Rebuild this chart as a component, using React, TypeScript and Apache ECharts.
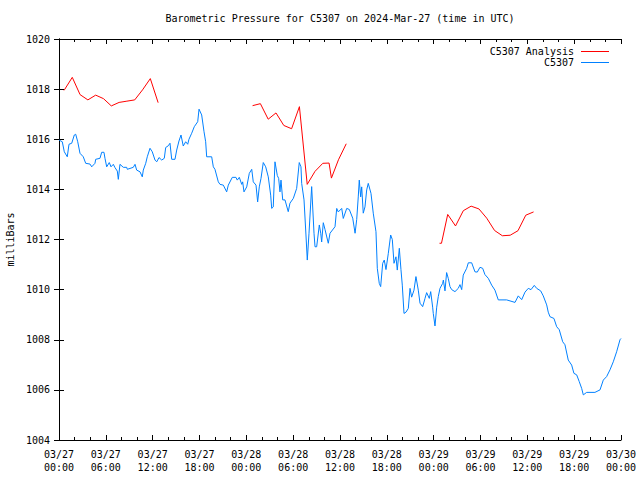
import React, { useEffect, useRef } from "react";
import * as echarts from "echarts";

// hours after 2024-03-27 00:00 UTC, pressure in milliBars
const xTickHours = [0, 6, 12, 18, 24, 30, 36, 42, 48, 54, 60, 66, 72];
const yTicks = [1004, 1006, 1008, 1010, 1012, 1014, 1016, 1018, 1020];

const c5307Obs: [number, number][] = [
  [0.0, 1015.97], [0.42, 1015.9], [0.68, 1015.5], [1.06, 1015.3], [1.28, 1015.8], [1.63, 1015.84], [1.96, 1016.17], [2.14, 1016.2],
  [2.4, 1015.9], [2.69, 1015.44], [3.11, 1015.3], [3.42, 1015.04], [3.97, 1015.01], [4.19, 1014.9], [4.61, 1015.04], [4.7, 1015.2],
  [5.25, 1015.24], [5.47, 1015.48], [5.76, 1015.48], [5.89, 1015.24], [6.11, 1014.9], [6.44, 1015.07], [6.66, 1014.9], [6.96, 1015.0],
  [7.17, 1014.87], [7.47, 1014.73], [7.6, 1014.4], [7.81, 1015.0], [8.24, 1014.88], [8.67, 1014.88], [8.75, 1014.8], [9.52, 1014.88],
  [9.74, 1015.0], [9.95, 1014.77], [10.38, 1014.7], [10.67, 1014.5], [10.8, 1014.77], [11.11, 1015.04], [11.31, 1015.3], [11.66, 1015.64],
  [11.95, 1015.5], [12.3, 1015.17], [12.52, 1015.1], [12.81, 1015.27], [13.16, 1015.17], [13.49, 1015.24], [13.67, 1015.67], [14.0, 1015.74],
  [14.22, 1015.84], [14.44, 1015.2], [14.86, 1015.2], [15.08, 1015.57], [15.37, 1015.93], [15.63, 1016.17], [15.92, 1015.73], [16.23, 1015.9],
  [16.49, 1015.8], [16.65, 1016.0], [17.0, 1016.24], [17.33, 1016.5], [17.77, 1016.7], [17.94, 1017.2], [18.28, 1016.97], [18.58, 1016.3],
  [18.79, 1015.9], [18.92, 1015.3], [19.56, 1015.3], [19.77, 1014.9], [19.98, 1014.8], [20.41, 1014.3], [20.63, 1014.2], [21.05, 1014.17],
  [21.48, 1013.9], [21.69, 1014.17], [22.2, 1014.48], [22.67, 1014.48], [22.84, 1014.37], [23.1, 1014.48], [23.41, 1014.2], [23.53, 1014.3],
  [23.7, 1013.9], [24.05, 1014.1], [24.38, 1014.64], [24.69, 1014.8], [24.89, 1014.3], [25.24, 1014.17], [25.45, 1013.5], [25.66, 1014.1],
  [25.88, 1014.44], [26.17, 1015.07], [26.48, 1014.9], [26.81, 1014.5], [27.12, 1013.77], [27.25, 1013.24], [27.45, 1013.3], [27.67, 1015.1],
  [27.97, 1014.55], [28.14, 1014.44], [28.31, 1013.9], [28.44, 1014.37], [28.66, 1013.58], [28.95, 1013.58], [29.37, 1013.11], [29.59, 1013.45],
  [30.02, 1013.64], [30.45, 1014.04], [30.78, 1015.07], [31.0, 1014.9], [31.09, 1014.24], [31.39, 1013.58], [31.64, 1012.18], [31.81, 1011.18],
  [32.03, 1012.25], [32.37, 1014.11], [32.67, 1012.25], [32.8, 1011.71], [33.01, 1011.71], [33.35, 1012.58], [33.53, 1012.25], [33.65, 1011.9],
  [33.86, 1012.67], [34.08, 1012.4], [34.5, 1011.85], [34.72, 1012.25], [35.36, 1012.51], [35.58, 1013.24], [35.78, 1013.1], [36.22, 1013.24],
  [36.42, 1012.84], [36.86, 1013.24], [37.19, 1013.2], [37.63, 1012.85], [37.93, 1012.25], [38.14, 1012.8], [38.34, 1013.7], [38.47, 1014.37],
  [38.65, 1013.7], [38.78, 1014.1], [38.98, 1013.05], [39.2, 1013.3], [39.42, 1013.98], [39.62, 1014.24], [39.97, 1013.84], [40.26, 1013.05],
  [40.61, 1012.31], [40.78, 1010.85], [41.03, 1010.25], [41.21, 1010.12], [41.47, 1011.05], [41.67, 1011.18], [41.89, 1010.8], [42.19, 1011.45],
  [42.49, 1012.18], [42.7, 1012.0], [42.92, 1011.05], [43.17, 1011.31], [43.34, 1010.78], [43.6, 1011.65], [43.81, 1010.8], [43.98, 1010.18],
  [44.2, 1009.05], [44.45, 1009.1], [44.75, 1009.25], [44.97, 1010.05], [45.18, 1009.7], [45.48, 1009.98], [45.73, 1010.52], [46.03, 1009.98],
  [46.25, 1009.46], [46.59, 1009.32], [46.89, 1009.65], [47.1, 1009.88], [47.44, 1009.65], [47.62, 1009.92], [47.87, 1009.3], [47.95, 1009.05],
  [48.17, 1008.55], [48.39, 1009.3], [48.59, 1009.72], [48.81, 1010.05], [49.15, 1010.25], [49.24, 1010.38], [49.45, 1009.95], [49.66, 1010.68],
  [49.87, 1010.45], [50.09, 1010.12], [50.31, 1010.0], [50.73, 1009.92], [51.15, 1010.05], [51.37, 1010.2], [51.59, 1010.0], [51.79, 1010.58],
  [52.23, 1010.85], [52.44, 1011.07], [52.87, 1011.07], [53.29, 1010.71], [53.59, 1010.7], [53.93, 1010.89], [54.28, 1010.85], [54.57, 1010.6],
  [55.0, 1010.45], [55.43, 1010.18], [55.85, 1009.98], [56.28, 1009.59], [57.35, 1009.59], [57.78, 1009.55], [58.42, 1009.49], [58.84, 1009.75],
  [59.28, 1009.6], [59.7, 1009.9], [60.12, 1010.05], [60.47, 1010.0], [60.89, 1010.17], [61.2, 1010.05], [61.71, 1009.95], [62.04, 1009.75],
  [62.48, 1009.39], [62.68, 1009.1], [62.9, 1008.92], [63.41, 1008.85], [63.76, 1008.52], [64.09, 1008.4], [64.53, 1007.92], [64.82, 1007.8],
  [65.24, 1007.19], [65.68, 1006.99], [65.97, 1006.66], [66.32, 1006.6], [66.65, 1006.33], [66.96, 1006.06], [67.17, 1005.8], [67.6, 1005.9],
  [68.66, 1005.9], [69.31, 1006.0], [69.73, 1006.39], [70.16, 1006.53], [70.59, 1006.8], [71.01, 1007.12], [71.44, 1007.52], [71.87, 1008.0],
  [72.0, 1008.05],
];

const analysisSeg1: [number, number][] = [
  [0.65, 1017.95], [1.7, 1018.47], [2.7, 1017.78], [3.7, 1017.57], [4.7, 1017.76], [5.7, 1017.62], [6.7, 1017.33],
  [7.7, 1017.47], [8.7, 1017.52], [9.7, 1017.57], [10.7, 1017.97], [11.7, 1018.42], [12.7, 1017.46],
];
const analysisSeg2: [number, number][] = [
  [24.8, 1017.34], [25.8, 1017.42], [26.8, 1016.8], [27.8, 1017.05], [28.8, 1016.55], [29.8, 1016.42], [30.8, 1017.3],
  [31.8, 1014.2], [32.8, 1014.72], [33.8, 1015.04], [34.6, 1015.05], [34.9, 1014.45], [35.8, 1015.18], [36.8, 1015.82],
];
const analysisSeg3: [number, number][] = [
  [48.75, 1011.85], [49.0, 1011.85], [49.8, 1013.0], [50.8, 1012.54], [51.8, 1013.15], [52.8, 1013.33], [53.8, 1013.22],
  [54.8, 1012.85], [55.8, 1012.36], [56.8, 1012.15], [57.8, 1012.17], [58.8, 1012.35], [59.8, 1012.97], [60.8, 1013.1],
];

const FONT = "DejaVu Sans Mono";
const RED = "#ff0000";
const BLUE = "#0080ff";
// thin horizontal bar inside a 28x11 box (the extra moves set the bounding box)
const LINE_ICON = "path://M0,0M28,11M0,5L28,5L28,6L0,6Z";

function xLabel(v: number): string {
  const day = 27 + Math.floor(v / 24);
  const hh = Math.round(v % 24);
  return `03/${day}\n${hh < 10 ? "0" : ""}${hh}:00`;
}

export default function App() {
  const ref = useRef<HTMLDivElement>(null);
  useEffect(() => {
    document.body.style.margin = "0";
    const chart = echarts.init(ref.current!, null, { renderer: "svg" });
    const analysisData: any[] = [
      ...analysisSeg1,
      [18, null],
      ...analysisSeg2,
      [42, null],
      ...analysisSeg3,
    ];
    const xMin = xTickHours[0];
    const xMax = xTickHours[xTickHours.length - 1];
    const yMin = yTicks[0];
    const yMax = yTicks[yTicks.length - 1];
    const baseX = {
      type: "value",
      min: xMin,
      max: xMax,
      interval: 6,
      splitLine: { show: false },
      axisLine: { show: true, lineStyle: { color: "#000", width: 1 } },
      axisTick: { show: true, inside: true, length: 5, lineStyle: { color: "#000" } },
      minorTick: { show: true, splitNumber: 3, length: 3, lineStyle: { color: "#000" } },
    };
    const baseY = {
      type: "value",
      min: yMin,
      max: yMax,
      interval: 2,
      splitLine: { show: false },
      axisLine: { show: true, lineStyle: { color: "#000", width: 1 } },
      axisTick: { show: true, inside: true, length: 5, lineStyle: { color: "#000" } },
    };
    chart.setOption({
      animation: false,
      backgroundColor: "#fff",
      textStyle: { fontFamily: FONT },
      title: {
        text: "Barometric Pressure for C5307 on 2024-Mar-27 (time in UTC)",
        left: 340,
        top: 13,
        textAlign: "center",
        padding: 0,
        textStyle: { fontFamily: FONT, fontSize: 10, fontWeight: "normal", color: "#000" },
      },
      legend: {
        data: [
          { name: "C5307 Analysis", icon: LINE_ICON, itemStyle: { color: RED } },
          { name: "C5307", icon: LINE_ICON, itemStyle: { color: BLUE } },
        ],
        orient: "vertical",
        right: 31,
        top: 46,
        align: "right",
        itemWidth: 28,
        itemHeight: 11,
        itemGap: 0,
        padding: 0,
        selectedMode: false,
        textStyle: { fontFamily: FONT, fontSize: 10, color: "#000", padding: [0, 2, 0, 0] },
      },
      grid: { left: 59, right: 19, top: 39, bottom: 40, show: false, containLabel: false, outerBoundsMode: "none" },
      xAxis: [
        {
          ...baseX,
          position: "bottom",
          axisLabel: {
            show: true,
            margin: 8,
            color: "#000",
            fontFamily: FONT,
            fontSize: 10,
            lineHeight: 13,
            formatter: xLabel,
          },
        },
        { ...baseX, position: "top", axisLabel: { show: false } },
      ],
      yAxis: [
        {
          ...baseY,
          position: "left",
          name: "milliBars",
          nameLocation: "middle",
          nameRotate: 90,
          nameGap: 43,
          nameTextStyle: { fontFamily: FONT, fontSize: 10, color: "#000" },
          axisLabel: {
            show: true,
            margin: 9,
            color: "#000",
            fontFamily: FONT,
            fontSize: 10,
            formatter: (v: number) => String(v),
          },
        },
        { ...baseY, position: "right", axisLabel: { show: false } },
      ],
      series: [
        {
          name: "C5307 Analysis",
          type: "line",
          data: analysisData,
          xAxisIndex: 0,
          yAxisIndex: 0,
          symbol: "none",
          showSymbol: false,
          connectNulls: false,
          color: RED,
          lineStyle: { color: RED, width: 1 },
        },
        {
          name: "C5307",
          type: "line",
          data: c5307Obs,
          xAxisIndex: 0,
          yAxisIndex: 0,
          symbol: "none",
          showSymbol: false,
          color: BLUE,
          lineStyle: { color: BLUE, width: 1 },
        },
      ],
    });
    return () => chart.dispose();
  }, []);
  return (
    <div
      ref={ref}
      style={{ position: "absolute", left: 0, top: 0, width: 640, height: 480 }}
    />
  );
}
